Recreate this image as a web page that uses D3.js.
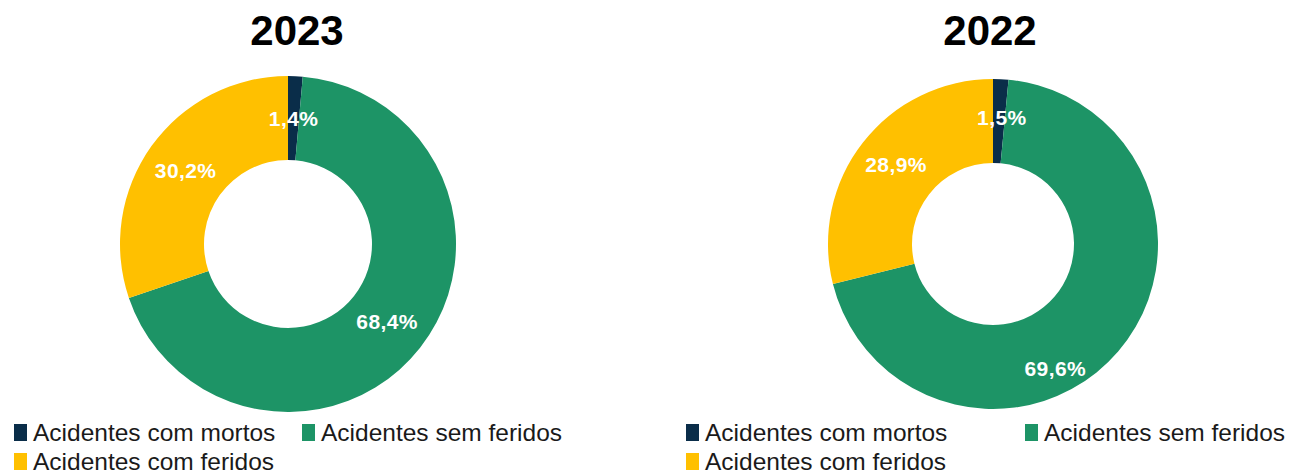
<!DOCTYPE html>
<html>
<head>
<meta charset="utf-8">
<script src="https://cdn.jsdelivr.net/npm/d3@7"></script>
<style>
    body { margin: 0; background: #fff; }
    svg { display: block; }
</style>
</head>
<body>
<div id="chart"></div>
<script>
(function () {
    'use strict';

    // data
    var categories = ['Acidentes com mortos', 'Acidentes sem feridos', 'Acidentes com feridos'];
    var years = ['2023', '2022'];
    var values2023 = [1.4, 68.4, 30.2];
    var values2022 = [1.5, 69.6, 28.9];
    var labels2023 = ['1,4%', '68,4%', '30,2%'];
    var labels2022 = ['1,5%', '69,6%', '28,9%'];
    var colors = ['#0A2D49', '#1D9466', '#FFC000'];

    var width = 1300;
    var height = 474;

    // layout of each donut panel
    var panels = [
        { year: years[0], values: values2023, labels: labels2023, cx: 288, cy: 244, outer: 168, inner: 84,
          titleX: 297, legendX: 14, legendCol2: 302, row2: 470, shift: [[0, 0], [0, 0], [0, 0]] },
        { year: years[1], values: values2022, labels: labels2022, cx: 993, cy: 244, outer: 165, inner: 81,
          titleX: 990, legendX: 686, legendCol2: 1025, row2: 470, shift: [[3, -4], [-31, 44], [0, -4]] }
    ];

    var svg = d3.select('#chart').append('svg')
        .attr('width', width)
        .attr('height', height);

    var pie = d3.pie()
        .value(function (d) { return d; })
        .sort(null);

    panels.forEach(function (p) {

        var g = svg.append('g')
            .attr('transform', 'translate(' + p.cx + ',' + p.cy + ')');

        var arc = d3.arc()
            .innerRadius(p.inner)
            .outerRadius(p.outer);

        var slices = pie(p.values);

        g.selectAll('path')
            .data(slices)
            .enter()
            .append('path')
            .attr('d', arc)
            .attr('fill', function (d, i) { return colors[i]; });

        //data labels at the centroid
        g.selectAll('text.lbl')
            .data(slices)
            .enter()
            .append('text')
            .attr('class', 'lbl')
            .attr('x', function (d, i) { return arc.centroid(d)[0] + p.shift[i][0]; })
            .attr('y', function (d, i) { return arc.centroid(d)[1] + p.shift[i][1]; })
            .attr('dy', '0.36em')
            .attr('text-anchor', 'middle')
            .style('font-family', 'Liberation Sans, Arial, sans-serif')
            .style('font-weight', 'bold')
            .style('font-size', '21px')
            .style('letter-spacing', '0.4px')
            .style('fill', '#fff')
            .text(function (d, i) { return p.labels[i]; });

        //title
        svg.append('text')
            .attr('x', p.titleX)
            .attr('y', 45)
            .attr('text-anchor', 'middle')
            .style('font-family', 'Liberation Sans, Arial, sans-serif')
            .style('font-weight', 'bold')
            .style('font-size', '42px')
            .style('fill', '#000')
            .text(p.year);

        //legend
        var legendPos = [
            [p.legendX, 441],
            [p.legendCol2, 441],
            [p.legendX, p.row2]
        ];

        var legend = svg.selectAll('.legend-' + p.year)
            .data(categories)
            .enter()
            .append('g')
            .attr('class', 'legend-' + p.year)
            .attr('transform', function (d, i) {
                return 'translate(' + legendPos[i][0] + ',' + legendPos[i][1] + ')';
            });
        legend.append('rect')
            .attr('x', 0)
            .attr('y', -17)
            .attr('width', 13)
            .attr('height', 17)
            .style('fill', function (d, i) { return colors[i]; });
        legend.append('text')
            .attr('x', 19)
            .attr('y', 0)
            .style('font-family', 'Liberation Sans, Arial, sans-serif')
            .style('font-size', '24.5px')
            .style('fill', '#1a1a1a')
            .text(function (d) { return d; });
    });
})();
</script>
</body>
</html>
